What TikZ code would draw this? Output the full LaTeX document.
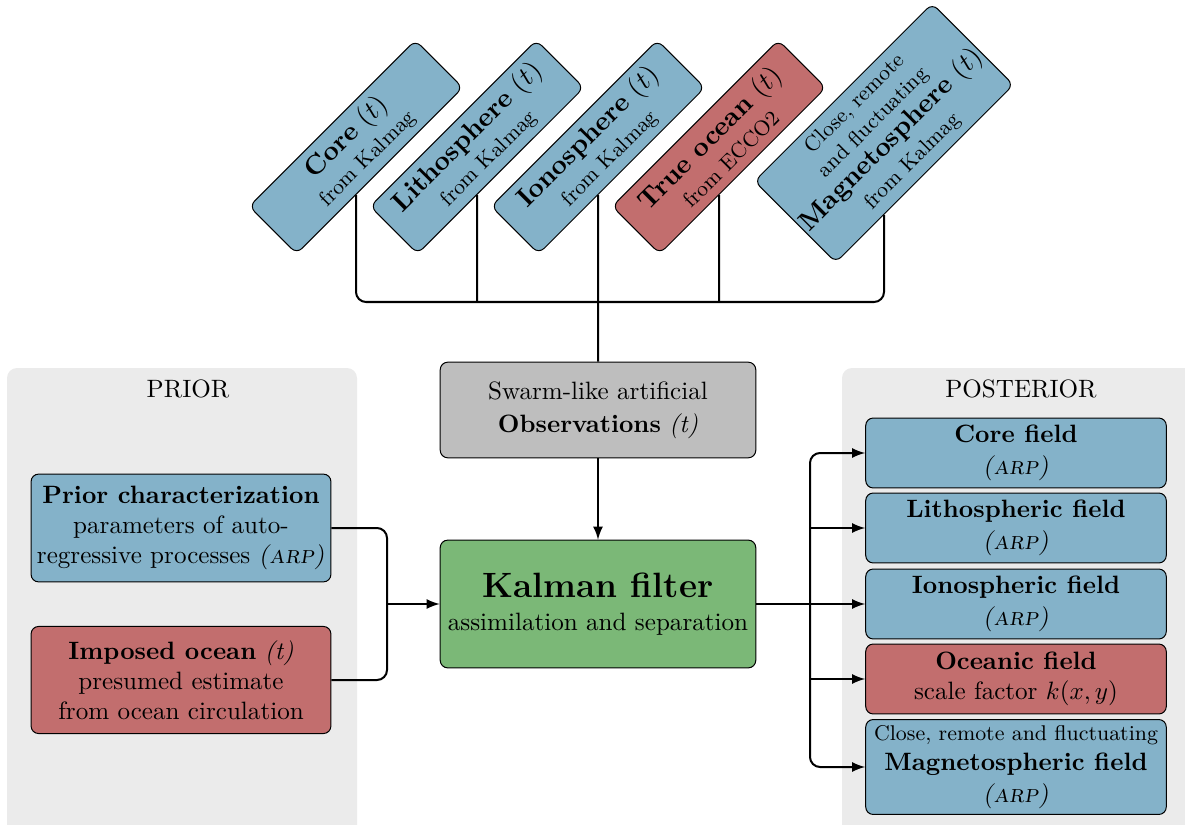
\documentclass[tikz,border=0pt]{standalone}
\definecolor{fieldblue}{HTML}{84B2C9}
\definecolor{oceanred}{HTML}{C26E6E}
\definecolor{filtergreen}{HTML}{7BB877}
\definecolor{obsgray}{HTML}{BEBEBE}
\definecolor{panelgray}{HTML}{EBEBEB}
\tikzset{
  box/.style={draw, rounded corners=3pt, align=center, inner sep=2pt},
  source/.style={box, rotate=45, fill=fieldblue, inner sep=1pt, font=\fontsize{8.5}{10.5}\selectfont, minimum width=3.29cm, minimum height=0.94cm},
  field/.style={box, fill=fieldblue, minimum width=4.21cm, minimum height=0.98cm},
  panel/.style={fill=panelgray, rounded corners=4pt},
  link/.style={thick}
}
\newcommand{\arp}{\textsc{\textsl{(arp)}}}
\newcommand{\srctitle}[1]{{\fontsize{10.7}{13}\selectfont\textbf{#1} $(t)$}}
\begin{document}
\begin{tikzpicture}[x=0.014cm, y=-0.014cm]
        \clip (0,0) rectangle (1185,825);
        \fill [panel] (7,368) rectangle (357,840);
        \fill [panel] (842,368) rectangle (1200,840);
        \node (prior) at (188,389) {PRIOR};
        \node (posterior) at (1021,389) {POSTERIOR};
        \foreach \x/\nm/\txt in {356/core/Core, 477/litho/Lithosphere, 598/iono/Ionosphere}{
          \node [source] (\nm) at (\x,147) {\srctitle{\txt}\\[1pt] from Kalmag};
        }
        \node [source, fill=oceanred] (trueocean) at (719,147) {\srctitle{True ocean}\\[1pt] from ECCO2};
        \node [source, minimum width=3.33cm, minimum height=1.61cm] (magneto) at (884,133) {Close, remote\\ and fluctuating\\ \srctitle{Magnetosphere}\\[1pt] from Kalmag};
        \node [box, fill=obsgray, minimum width=4.42cm, minimum height=1.34cm] (obs) at (598,410) {Swarm-like artificial\\[1pt] \textbf{Observations} \textit{(t)}};
        \node [box, fill=filtergreen, minimum width=4.42cm, minimum height=1.79cm] (kalman) at (598,604) {{\fontsize{14}{17}\selectfont\textbf{Kalman filter}}\\[1pt] assimilation and separation};
        \node [box, fill=fieldblue, minimum width=4.2cm, minimum height=1.51cm] (charact) at (181,528) {\textbf{Prior characterization}\\ parameters of auto-\\ regressive processes \arp};
        \node [box, fill=oceanred, minimum width=4.2cm, minimum height=1.5cm] (imposed) at (181,680) {\textbf{Imposed ocean} \textit{(t)}\\ presumed estimate\\ from ocean circulation};
        \node [field] (pcore) at (1016,453) {\textbf{Core field}\\[1pt] \arp};
        \node [field] (plitho) at (1016,528) {\textbf{Lithospheric field}\\[1pt] \arp};
        \node [field] (piono) at (1016,604) {\textbf{Ionospheric field}\\[1pt] \arp};
        \node [field, fill=oceanred] (pocean) at (1016,679) {\textbf{Oceanic field}\\ scale factor $k(x,y)$};
        \node [field, minimum height=1.33cm] (pmagneto) at (1016,767) {{\fontsize{8.5}{10.5}\selectfont Close, remote and fluctuating}\\ \textbf{Magnetospheric field}\\[1pt] \arp};
        \coordinate (bus) at (598,302);
        \draw [link, rounded corners=4pt] (core) |- (bus) -| (magneto);
        \foreach \nm in {litho, trueocean}{
          \draw [link] (\nm) -- (\nm |- bus);
        }
        \draw [link] (iono) -- (obs);
        \draw [link, -latex] (obs) -- (kalman);
        \coordinate (ljoin) at (387,604);
        \draw [link, rounded corners=4pt] (charact) -| (ljoin) |- (imposed);
        \draw [link, -latex] (ljoin) -- (kalman);
        \coordinate (rjoin) at (810,604);
        \draw [link] (kalman) -- (rjoin);
        \draw [link, -latex, rounded corners=4pt] (rjoin) |- (pcore);
        \draw [link, -latex, rounded corners=4pt] (rjoin) |- (pmagneto);
        \foreach \nm in {plitho, piono, pocean}{
          \draw [link, -latex] (rjoin |- \nm) -- (\nm);
        }
      \end{tikzpicture}
\end{document}
